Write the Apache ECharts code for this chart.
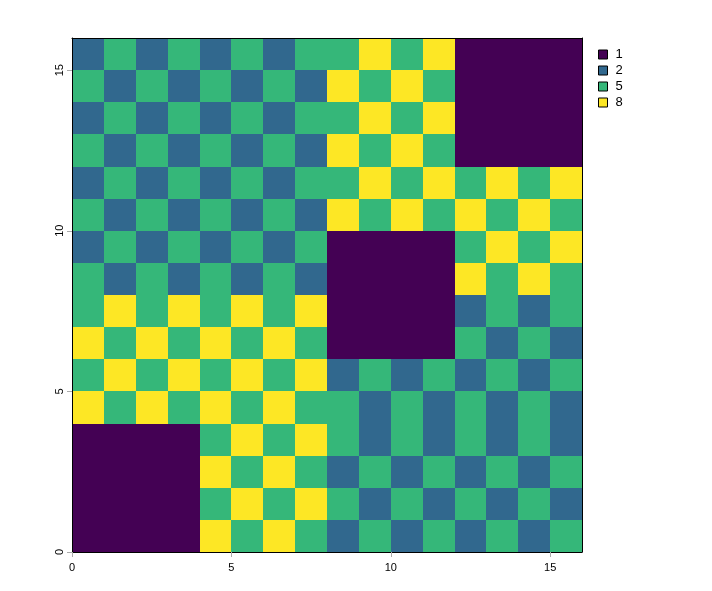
<!DOCTYPE html>
<html>
<head>
<meta charset="utf-8">
<script src="https://cdn.jsdelivr.net/npm/echarts@6/dist/echarts.min.js"></script>
<style>html,body{margin:0;padding:0;background:#fff}#c{width:712px;height:591px}</style>
</head>
<body>
<div id="c"></div>
<script>
// Grid values, rows listed from top (y = 15) to bottom (y = 0), columns x = 0..15
const rowsTopDown = [
  [2,5,2,5,2,5,2,5,5,8,5,8,1,1,1,1],
  [5,2,5,2,5,2,5,2,8,5,8,5,1,1,1,1],
  [2,5,2,5,2,5,2,5,5,8,5,8,1,1,1,1],
  [5,2,5,2,5,2,5,2,8,5,8,5,1,1,1,1],
  [2,5,2,5,2,5,2,5,5,8,5,8,5,8,5,8],
  [5,2,5,2,5,2,5,2,8,5,8,5,8,5,8,5],
  [2,5,2,5,2,5,2,5,1,1,1,1,5,8,5,8],
  [5,2,5,2,5,2,5,2,1,1,1,1,8,5,8,5],
  [5,8,5,8,5,8,5,8,1,1,1,1,2,5,2,5],
  [8,5,8,5,8,5,8,5,1,1,1,1,5,2,5,2],
  [5,8,5,8,5,8,5,8,2,5,2,5,2,5,2,5],
  [8,5,8,5,8,5,8,5,5,2,5,2,5,2,5,2],
  [1,1,1,1,5,8,5,8,5,2,5,2,5,2,5,2],
  [1,1,1,1,8,5,8,5,2,5,2,5,2,5,2,5],
  [1,1,1,1,5,8,5,8,5,2,5,2,5,2,5,2],
  [1,1,1,1,8,5,8,5,2,5,2,5,2,5,2,5]
];
const levels = [1, 2, 5, 8];
const xTicks = [0, 5, 10, 15];
const yTicks = [0, 5, 10, 15];

const palette = ['#440154', '#31688E', '#35B779', '#FDE725'];
const FONT = '"Liberation Sans", Arial, sans-serif';
const nRows = rowsTopDown.length;

function cellsFor(level) {
  const out = [];
  rowsTopDown.forEach((row, r) => {
    const y = nRows - 1 - r;
    row.forEach((v, x) => { if (v === level) out.push([x, y]); });
  });
  return out;
}

function renderCell(params, api) {
  const x = api.value(0), y = api.value(1);
  const p0 = api.coord([x, y + 1]);
  const p1 = api.coord([x + 1, y]);
  const x0 = Math.round(p0[0]), y0 = Math.round(p0[1]);
  const x1 = Math.round(p1[0]), y1 = Math.round(p1[1]);
  return {
    type: 'rect',
    shape: { x: x0, y: y0, width: x1 - x0, height: y1 - y0 },
    style: { fill: api.visual('color') }
  };
}

const chart = echarts.init(document.getElementById('c'), null, { renderer: 'canvas' });
chart.setOption({
  animation: false,
  backgroundColor: '#fff',
  textStyle: { fontFamily: FONT },
  grid: { left: 72, top: 38, right: 130, bottom: 39, containLabel: false },
  legend: {
    orient: 'vertical',
    left: 593,
    top: 43,
    icon: 'rect',
    itemWidth: 9,
    itemHeight: 9,
    itemGap: 3,
    itemStyle: { borderColor: '#000', borderWidth: 1 },
    textStyle: { fontFamily: FONT, fontSize: 13, lineHeight: 13, color: '#000', padding: [0, 0, 0, 3] },
    data: levels.map(String)
  },
  xAxis: [
    {
      type: 'value', min: 0, max: 16, position: 'bottom', z: 10,
      splitLine: { show: false },
      axisLine: { show: true, onZero: false, lineStyle: { color: '#000', width: 1 } },
      axisTick: { show: true, length: 5, customValues: xTicks, lineStyle: { color: '#aaa' } },
      axisLabel: { customValues: xTicks, margin: 10, fontSize: 11, color: '#000', fontFamily: FONT }
    },
    {
      type: 'value', min: 0, max: 16, position: 'top', z: 10,
      splitLine: { show: false },
      axisLine: { show: true, onZero: false, lineStyle: { color: '#000', width: 1 } },
      axisTick: { show: false }, axisLabel: { show: false }
    }
  ],
  yAxis: [
    {
      type: 'value', min: 0, max: 16, position: 'left', z: 10,
      splitLine: { show: false },
      axisLine: { show: true, onZero: false, lineStyle: { color: '#000', width: 1 } },
      axisTick: { show: true, length: 5, customValues: yTicks, lineStyle: { color: '#aaa' } },
      axisLabel: { customValues: yTicks, rotate: 90, margin: 7, fontSize: 11, color: '#000', fontFamily: FONT }
    },
    {
      type: 'value', min: 0, max: 16, position: 'right', z: 10,
      splitLine: { show: false },
      axisLine: { show: true, onZero: false, lineStyle: { color: '#000', width: 1 } },
      axisTick: { show: false }, axisLabel: { show: false }
    }
  ],
  series: levels.map((lv, i) => ({
    name: String(lv),
    type: 'custom',
    xAxisIndex: 0,
    yAxisIndex: 0,
    itemStyle: { color: palette[i] },
    encode: { x: 0, y: 1 },
    renderItem: renderCell,
    data: cellsFor(lv)
  }))
});
</script>
</body>
</html>
